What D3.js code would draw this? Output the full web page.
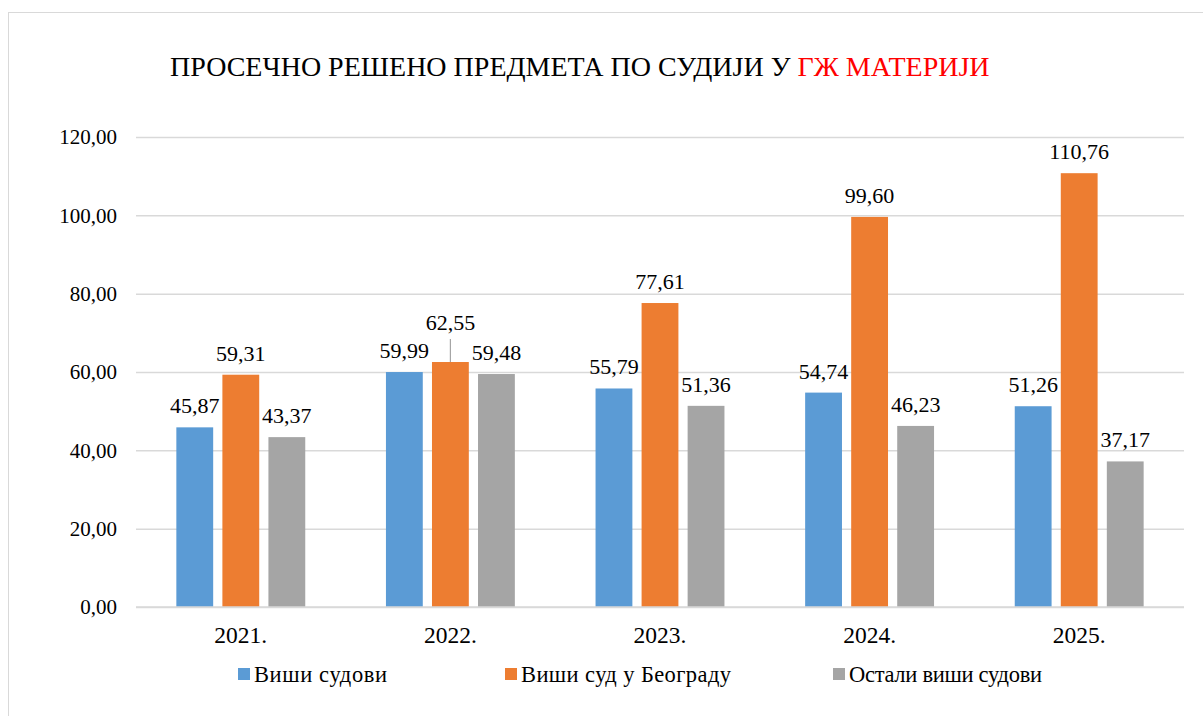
<!DOCTYPE html>
<html>
<head>
<meta charset="utf-8">
<script src="https://cdn.jsdelivr.net/npm/d3@7"></script>
</head>
<body style="margin:0;background:#fff">
<script>
const years = ["2021.", "2022.", "2023.", "2024.", "2025."];
const seriesNames = ["Виши судови", "Виши суд у Београду", "Остали виши судови"];
const visiSudovi = [45.87, 59.99, 55.79, 54.74, 51.26];
const visiSudBeograd = [59.31, 62.55, 77.61, 99.60, 110.76];
const ostaliVisiSudovi = [43.37, 59.48, 51.36, 46.23, 37.17];
const yTicks = [0, 20, 40, 60, 80, 100, 120];
const colors = ["#5B9BD5", "#ED7D31", "#A5A5A5"];

const FONT = "Liberation Serif";
const W = 1203, H = 716;
const margin = {top: 137, left: 136, right: 19, bottom: 109};
const width = W - margin.left - margin.right;
const height = H - margin.top - margin.bottom;

const allSeries = [visiSudovi, visiSudBeograd, ostaliVisiSudovi];
const fmt = v => v.toFixed(2).replace(".", ",");

const svg = d3.select("body").append("svg")
    .attr("width", W)
    .attr("height", H)
    .attr("font-family", FONT);

// chart border
svg.append("rect")
    .attr("x", 8.5).attr("y", 12.5)
    .attr("width", W).attr("height", H)
    .attr("fill", "none")
    .attr("stroke", "#d9d9d9");

// title
const title = svg.append("text")
    .attr("x", 170).attr("y", 76)
    .attr("font-family", FONT)
    .attr("font-size", 28);
title.append("tspan").text("ПРОСЕЧНО РЕШЕНО ПРЕДМЕТА ПО СУДИЈИ У ");
title.append("tspan").attr("fill", "#ff0000").text("ГЖ МАТЕРИЈИ");

const g = svg.append("g")
    .attr("transform", "translate(" + margin.left + "," + margin.top + ")");

const x0 = d3.scaleBand()
    .domain(years)
    .range([0, width])
    .paddingInner(0.385)
    .paddingOuter(0.1925);

const x1 = d3.scaleBand()
    .domain(seriesNames)
    .range([0, x0.bandwidth()])
    .paddingInner(0.2);

const y = d3.scaleLinear()
    .domain([0, 120])
    .range([height, 0]);

// gridlines + y labels
const yAxis = d3.axisLeft(y)
    .tickValues(yTicks)
    .tickSize(-width)
    .tickPadding(19)
    .tickFormat(fmt);

g.append("g")
    .attr("class", "y axis")
    .call(yAxis)
    .attr("font-family", FONT)
    .attr("font-size", 21)
    .call(s => s.select(".domain").remove())
    .call(s => s.selectAll(".tick line").attr("stroke", "#d9d9d9").attr("stroke-width", 1.5))
    .call(s => s.selectAll(".tick text").attr("fill", "#000"));

// x labels
const xAxis = d3.axisBottom(x0)
    .tickSize(0)
    .tickPadding(19);

g.append("g")
    .attr("class", "x axis")
    .attr("transform", "translate(0," + height + ")")
    .call(xAxis)
    .attr("font-family", FONT)
    .attr("font-size", 23.5)
    .call(s => s.select(".domain").remove())
    .call(s => s.selectAll(".tick text").attr("fill", "#000"));

// bars
const rows = years.map((yr, i) => ({
    year: yr,
    vals: seriesNames.map((n, j) => ({name: n, value: allSeries[j][i], idx: j, year: yr}))
}));

const groups = g.selectAll("g.grp")
    .data(rows)
  .enter().append("g")
    .attr("class", "grp")
    .attr("transform", d => "translate(" + x0(d.year) + ",0)");

groups.selectAll("rect")
    .data(d => d.vals)
  .enter().append("rect")
    .attr("x", d => x1(d.name))
    .attr("y", d => y(d.value))
    .attr("width", x1.bandwidth())
    .attr("height", d => y(0) - y(d.value))
    .attr("fill", d => colors[d.idx]);

// data labels (the crowded one is lifted, with a leader line)
const liftLabel = {"2022.|1": 18};
groups.selectAll("text.lbl")
    .data(d => d.vals)
  .enter().append("text")
    .attr("class", "lbl")
    .attr("x", d => x1(d.name) + x1.bandwidth() / 2)
    .attr("y", d => y(d.value) - 14 - (liftLabel[d.year + "|" + d.idx] || 0))
    .attr("text-anchor", "middle")
    .attr("font-family", FONT)
    .attr("font-size", 22)
    .text(d => fmt(d.value));

groups.selectAll("line.leader")
    .data(d => d.vals.filter(v => liftLabel[v.year + "|" + v.idx]))
  .enter().append("line")
    .attr("class", "leader")
    .attr("x1", d => x1(d.name) + x1.bandwidth() / 2)
    .attr("x2", d => x1(d.name) + x1.bandwidth() / 2)
    .attr("y1", d => y(d.value) - 14 - liftLabel[d.year + "|" + d.idx] + 9)
    .attr("y2", d => y(d.value))
    .attr("stroke", "#a6a6a6")
    .attr("stroke-width", 1.2);

// baseline
g.append("line")
    .attr("x1", 0).attr("x2", width)
    .attr("y1", height).attr("y2", height)
    .attr("stroke", "#d9d9d9")
    .attr("stroke-width", 1.5);

// legend
const legendX = [238, 505, 833];
const legendTextW = [133, 210, 193];
const items = svg.append("g").attr("class", "legend")
    .selectAll("g")
    .data(seriesNames)
  .enter().append("g")
    .attr("transform", (d, i) => "translate(" + legendX[i] + ",668)");
items.append("rect")
    .attr("width", 12).attr("height", 12)
    .attr("fill", (d, i) => colors[i]);
items.append("text")
    .attr("x", 16).attr("y", 14)
    .attr("font-family", FONT)
    .attr("font-size", 22.5)
    .attr("textLength", (d, i) => legendTextW[i])
    .attr("lengthAdjust", "spacing")
    .text(d => d);
</script>
</body>
</html>
